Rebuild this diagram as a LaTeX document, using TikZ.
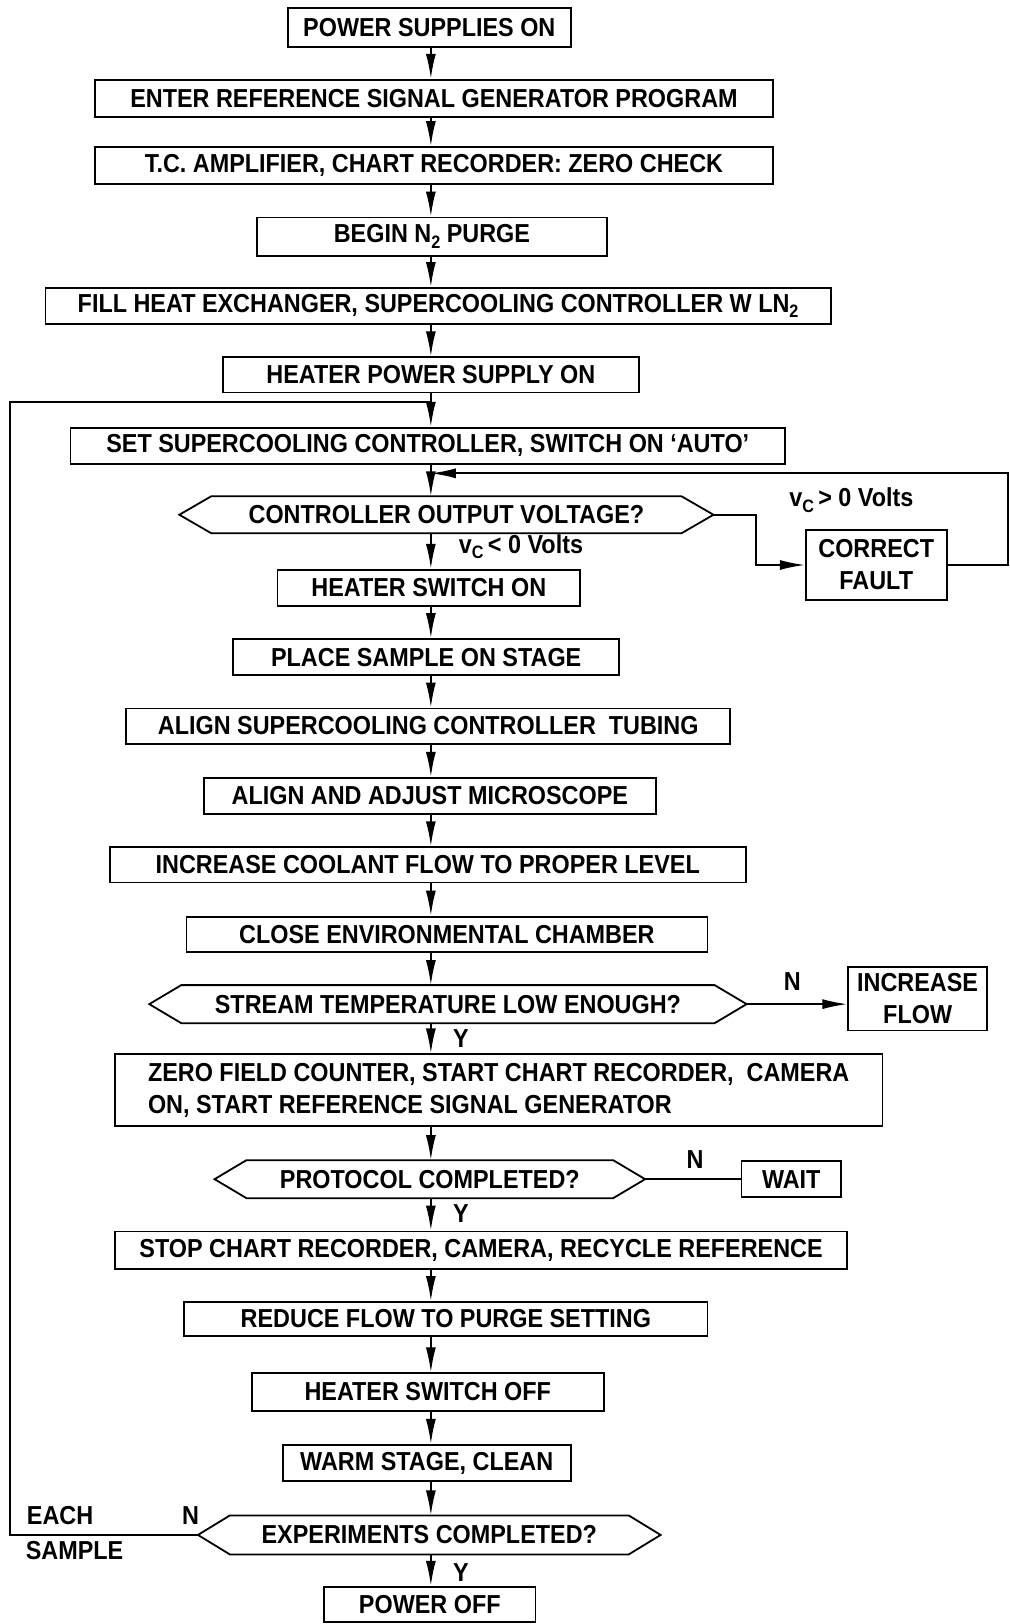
\documentclass[tikz,border=0pt]{standalone}
\usepackage{fontspec}
\setmainfont{Liberation Sans}[FakeStretch=0.9]
\usetikzlibrary{arrows.meta}
\newcommand{\lowsub}[1]{\raisebox{-0.4ex}{\fontsize{9}{9}\selectfont #1}}
% \mkbox[options]{name}{x1}{y1}{x2}{y2}{text}
\newcommand{\mkbox}[7][]{%
  \node[boxn, minimum width={(#5-#3)*0.518pt}, minimum height={(#6-#4)*0.518pt}, #1]
    (#2) at ({(#3+#5)/2},{(#4+#6)/2}) {#7};}
\begin{document}
\begin{tikzpicture}[x=0.518pt,y=-0.518pt,
  line/.style={line width=0.9pt},
  arr/.style={line, -{Latex[length=12.5pt,width=5pt]}},
  boxn/.style={draw, line width=0.9pt, inner sep=0pt, font=\fontsize{13}{16}\selectfont\bfseries},
  hexn/.style={draw=none},
  lab/.style={font=\fontsize{13}{16}\selectfont\bfseries, inner sep=0pt}]
\useasboundingbox (0,0) rectangle (975,1568);
\coordinate (spine) at (416,0);

\mkbox{p1}{278}{8}{551}{45}{POWER SUPPLIES ON}
\mkbox{p2}{92}{77}{746}{113}{ENTER REFERENCE SIGNAL GENERATOR PROGRAM}
\mkbox{p3}{92}{142}{746}{178}{T.C. AMPLIFIER, CHART RECORDER: ZERO CHECK}
\mkbox{p4}{248}{210}{586}{247}{BEGIN N\lowsub{2} PURGE}
\mkbox{p5}{44}{278}{802}{313}{FILL HEAT EXCHANGER, SUPERCOOLING CONTROLLER W LN\lowsub{2}}
\mkbox{p6}{215}{345}{617}{379}{HEATER POWER SUPPLY ON}
\mkbox{p7}{68}{413}{758}{448}{SET SUPERCOOLING CONTROLLER, SWITCH ON `AUTO'}
\mkbox[hexn]{h1}{174}{480}{688}{514}{CONTROLLER OUTPUT VOLTAGE?}
\mkbox{p9}{268}{550}{560}{585}{HEATER SWITCH ON}
\mkbox[align=center]{cf}{778}{512}{914}{579}{CORRECT\\FAULT}
\mkbox{p11}{225}{617}{598}{652}{PLACE SAMPLE ON STAGE}
\mkbox{p12}{122}{684}{705}{718}{ALIGN SUPERCOOLING CONTROLLER\ \ TUBING}
\mkbox{p13}{197}{751}{633}{786}{ALIGN AND ADJUST MICROSCOPE}
\mkbox{p14}{106}{818}{720}{852}{INCREASE COOLANT FLOW TO PROPER LEVEL}
\mkbox{p15}{180}{885}{683}{919}{CLOSE ENVIRONMENTAL CHAMBER}
\mkbox[hexn]{h2}{145}{952}{720}{987}{STREAM TEMPERATURE LOW ENOUGH?}
\mkbox[align=center]{inc}{819}{934}{953}{995}{INCREASE\\FLOW}
\mkbox[align=left]{p18}{111}{1018}{852}{1087}{ZERO FIELD COUNTER, START CHART RECORDER,\ \ CAMERA\\ON, START REFERENCE SIGNAL GENERATOR}
\mkbox[hexn]{h3}{208}{1121}{622}{1156}{PROTOCOL COMPLETED?}
\mkbox{wait}{716}{1121}{812}{1156}{WAIT}
\mkbox{p21}{111}{1189}{818}{1225}{STOP CHART RECORDER, CAMERA, RECYCLE REFERENCE}
\mkbox{p22}{178}{1257}{683}{1290}{REDUCE FLOW TO PURGE SETTING}
\mkbox{p23}{243}{1326}{583}{1362}{HEATER SWITCH OFF}
\mkbox{p24}{273}{1395}{551}{1430}{WARM STAGE, CLEAN}
\mkbox[hexn]{h4}{192}{1464}{637}{1500}{EXPERIMENTS COMPLETED?}
\mkbox{p26}{313}{1532}{517}{1566}{POWER OFF}

\foreach \n in {h1,h2,h3,h4}
  \draw[line] (\n.west) -- ([xshift=16pt]\n.north west) -- ([xshift=-16pt]\n.north east)
    -- (\n.east) -- ([xshift=-16pt]\n.south east) -- ([xshift=16pt]\n.south west) -- cycle;

% spine connectors
\foreach \a/\b in {p1/p2,p2/p3,p3/p4,p4/p5,p5/p6,p6/p7,p7/h1,h1/p9,p9/p11,p11/p12,p12/p13,
  p13/p14,p14/p15,p15/h2,h2/p18,p18/h3,h3/p21,p21/p22,p22/p23,p23/p24,p24/h4,h4/p26}
  \draw[arr] (\a.south -| spine) -- (\b.north -| spine);

% correct fault branch
\coordinate (cfr) at (973,457);
\draw[arr] (h1.east) -| (730,530) |- (cf.west);
\draw[arr] (cf.east) -| (cfr) -- (spine |- cfr);

% other branches
\draw[arr] (h2.east) -- (h2.east -| inc.west);
\draw[line] (h3.east) -- (wait.west);
\coordinate (loopx) at (10,388);
\draw[line] (h4.west) -| (loopx) -- (spine |- loopx);

% labels
\node[lab] (l1) at (822,483) {v\lowsub{C}\,> 0 Volts};
\node[lab] (l2) at (503,528) {v\lowsub{C}\,< 0 Volts};
\node[lab] (nA) at (765,948) {N};
\node[lab] (yA) at (445,1003) {Y};
\node[lab] (nB) at (671,1120) {N};
\node[lab] (yB) at (445,1172) {Y};
\node[lab] (nC) at (184,1463) {N};
\node[lab] (yC) at (445,1518) {Y};
\node[lab] (each) at (58,1463) {EACH};
\node[lab] (samp) at (72,1497) {SAMPLE};
\end{tikzpicture}
\end{document}
